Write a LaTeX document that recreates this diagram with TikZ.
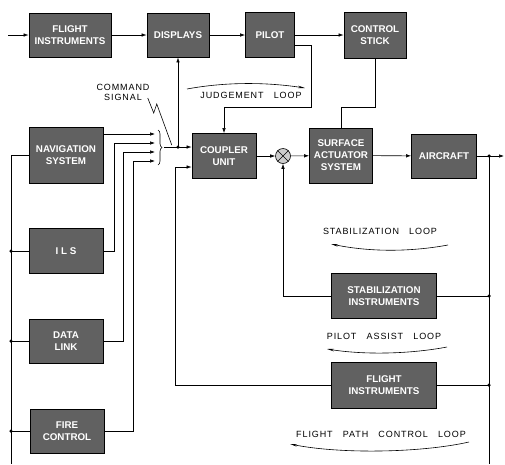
\documentclass[tikz,border=0pt]{standalone}
\usepackage{fontspec}
\setsansfont{Liberation Sans}
\newfontfamily\loopfont[LetterSpace=10,WordSpace=3]{Liberation Sans}
\usetikzlibrary{arrows.meta,decorations.pathreplacing}

\tikzset{
  unit/.style={rectangle, draw=black, line width=0.8pt, fill=black!62,
    text=white, inner sep=0pt, align=center,
    font=\sffamily\bfseries\fontsize{9.8}{12}\selectfont},
  sig/.style={-{Latex[length=5pt,width=3.5pt]}},
  loopmark/.style={-{Stealth[length=7pt,width=2.5pt]}},
  looplabel/.style={font=\loopfont\fontsize{9}{10}\selectfont, inner sep=1pt},
  jdot/.style={circle, fill=black, inner sep=0pt, minimum size=3.5pt},
}

\begin{document}
\begin{tikzpicture}[x=1pt, y=-1pt, line width=0.6pt]
  \useasboundingbox (0,0) rectangle (505,464);

  \node [unit, minimum width=82pt, minimum height=44pt] (fltinst) at (70,35) {FLIGHT\\INSTRUMENTS};
  \node [unit, minimum width=62pt, minimum height=44pt] (displays) at (178,35) {DISPLAYS};
  \node [unit, minimum width=49pt, minimum height=45pt] (pilot) at (270,35) {PILOT};
  \node [unit, minimum width=62pt, minimum height=46pt] (stick) at (375,35) {CONTROL\\STICK};

  \node [unit, minimum width=74pt, minimum height=56pt] (nav) at (66,155) {NAVIGATION\\SYSTEM};
  \node [unit, minimum width=74pt, minimum height=45pt] (ils) at (66,251) {I L S};
  \node [unit, minimum width=74pt, minimum height=44pt] (datalink) at (66,341) {DATA\\LINK};
  \node [unit, minimum width=74pt, minimum height=44pt] (firectl) at (67,431) {FIRE\\CONTROL};

  \node [unit, minimum width=64pt, minimum height=45pt] (coupler) at (224,156) {COUPLER\\UNIT};
  \node [circle, draw, fill=black!20, minimum size=15pt, inner sep=0pt] (sum) at (283,156) {};
  \draw (sum.north west) -- (sum.south east) (sum.north east) -- (sum.south west);
  \node [unit, minimum width=63pt, minimum height=55pt] (actuator) at (341,155.5) {SURFACE\\ACTUATOR\\SYSTEM};
  \node [unit, minimum width=65pt, minimum height=44pt] (aircraft) at (444,156) {AIRCRAFT};

  \node [unit, minimum width=105pt, minimum height=45pt] (stabinst) at (384,296) {STABILIZATION\\INSTRUMENTS};
  \node [unit, minimum width=105pt, minimum height=46pt] (fltinst2) at (384,385) {FLIGHT\\INSTRUMENTS};

  \coordinate (in) at (8,35);
  \coordinate (out) at (504,156);
  \coordinate (fb) at (489,156);
  \coordinate (fbend) at (489,464);
  \coordinate (bus) at (11,464);
  \coordinate (b1) at (155,134);
  \coordinate (b2) at (155,143);
  \coordinate (b3) at (155,152);
  \coordinate (b4) at (155,161);
  \coordinate (cmdtip) at (164,147);
  \coordinate (cmdj) at (178,147);
  \coordinate (cin2) at ([yshift=-11pt]coupler.west);
  \coordinate (jcorner) at (311,107);

  % top row and judgement loop
  \draw [sig] (in) -- (fltinst);
  \draw [sig] (fltinst) -- (displays);
  \draw [sig] (displays) -- (pilot);
  \draw [sig] (pilot) -- (stick);
  \draw (stick.south) -- ++(0,49) -| (actuator.north);
  \draw [sig] ([yshift=-10pt]pilot.east) -| (jcorner) -| (coupler.north);

  % main path
  \draw [sig] (coupler) -- (sum);
  \draw [sig] (sum) -- (actuator);
  \draw [sig] (actuator) -- (aircraft);
  \draw [sig] (aircraft) -- (out);
  \draw (fb) -- (fbend);
  \node [jdot] at (fb) {};
  \draw [sig] (stabinst.west) -| (sum.south);
  \draw (stabinst.east) -- (stabinst.east -| fb) node [jdot] {};
  \draw (fltinst2.east) -- (fltinst2.east -| fb) node [jdot] {};
  \draw [sig] (fltinst2.west) -| ([xshift=-16pt]cin2) -- (cin2);

  % sources into the coupler
  \draw (nav.west) -| (bus);
  \draw (ils.west) -- (ils.west -| bus) node [jdot] {};
  \draw (datalink.west) -- (datalink.west -| bus) node [jdot] {};
  \draw (firectl.west) -- (firectl.west -| bus) node [jdot] {};
  \draw [sig] (nav.east |- b1) -- (b1);
  \draw [sig] (ils.east) -- ++(11,0) |- (b2);
  \draw [sig] (datalink.east) -- ++(20,0) |- (b3);
  \draw [sig] (firectl.east) -- ++(29,0) |- (b4);
  \draw [decorate, decoration={brace, amplitude=4pt}] (158,130) -- (158,165);
  \draw [sig] (cmdtip) -- (coupler.west |- cmdtip);
  \draw [sig] (cmdj) -- (displays.south);
  \node [jdot] at (cmdj) {};

  \node [looplabel, align=center] (cmd) at (123,92) {COMMAND\\SIGNAL};
  \draw (cmd.east) ++(-3,6) -- ++(6,15) -- ++(3,-9) -- ++(15,41);

  % loop names
  \node [looplabel] (jlbl) at (251,95) {JUDGEMENT LOOP};
  \draw [loopmark] (187,89) .. controls (225,82) and (265,82) .. (305,88);
  \node [looplabel] (stablbl) at (380,231) {STABILIZATION LOOP};
  \draw [loopmark] (448,245) .. controls (410,252) and (370,252) .. (331,244);
  \node [looplabel] (palbl) at (384,336) {PILOT ASSIST LOOP};
  \draw [loopmark] (447,347) .. controls (410,354) and (365,355) .. (327,349);
  \node [looplabel] (fpclbl) at (381,434) {FLIGHT PATH CONTROL LOOP};
  \draw [loopmark] (469,442) .. controls (420,453) and (340,454) .. (290,444);
\end{tikzpicture}
\end{document}
